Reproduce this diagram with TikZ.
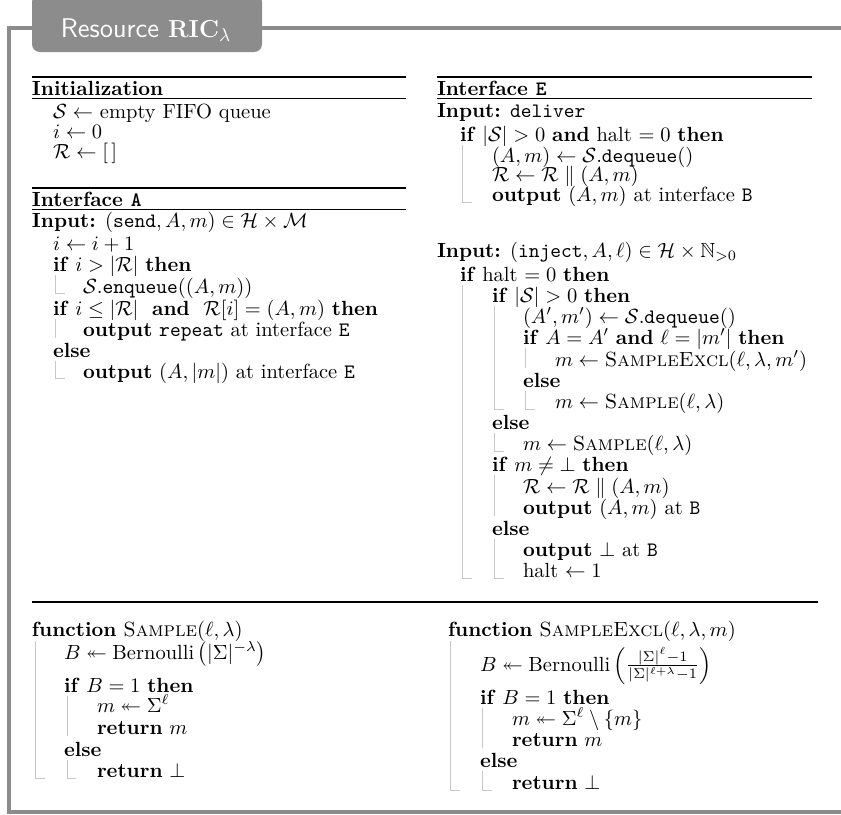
\documentclass[tikz,border=0pt]{standalone}
\usepackage{amsmath,amssymb}
\definecolor{framegray}{RGB}{140,140,140}
\definecolor{vgray}{RGB}{200,200,200}
\tikzset{
  ln/.style={anchor=base west, inner sep=0pt, outer sep=0pt},
  hd/.style={ln, font=\bfseries},
  vline/.style={draw=vgray, line width=0.45pt},
  toprl/.style={line width=0.8pt},
  midrl/.style={line width=0.4pt},
  seprl/.style={line width=0.5pt},
  frameline/.style={draw=framegray, line width=1.6pt},
}
% vertical block line with a hook at its end, and a plain one
\newcommand\blockhook[3]{\draw[vline] (#1,#2) -- (#1,#3) -- ++(9,0);}
\newcommand\blockplain[3]{\draw[vline] (#1,#2) -- (#1,#3);}
\begin{document}
\begin{tikzpicture}[x=0.4878pt,y=-0.4878pt]
\useasboundingbox (0,0) rectangle (841,814);

% outer frame and title tab
\draw[frameline] (870,28) -- (9,28) -- (9,812) -- (870,812);
\fill[framegray, rounded corners=3.8pt] (32,-6) rectangle (262,52);
\node[anchor=base, inner sep=0pt, text=white, font=\fontsize{13.2}{16}\selectfont\sffamily] (title) at (146,37) {Resource $\mathbf{RIC}_\lambda$};

% ---------- left column ----------
\draw[toprl] (32,77) -- (406,77);
\node[hd] (hInit) at (32,95) {Initialization};
\draw[midrl] (32,98) -- (406,98);
\node[ln] (i1) at (53,118) {$\mathcal{S} \leftarrow$ empty FIFO queue};
\node[ln] (i2) at (53,138) {$i \leftarrow 0$};
\node[ln] (i3) at (53,158) {$\mathcal{R} \leftarrow [\,]$};

\draw[toprl] (32,188) -- (406,188);
\node[hd] (hA) at (32,206) {Interface \texttt{A}};
\draw[midrl] (32,209) -- (406,209);
\node[ln] (a0) at (32,227) {\textbf{Input:} $(\texttt{send}, A, m) \in \mathcal{H} \times \mathcal{M}$};
\node[ln] (a1) at (53,250) {$i \leftarrow i+1$};
\node[ln] (a2) at (53,271) {\textbf{if} $i > |\mathcal{R}|$ \textbf{then}};
\node[ln] (a3) at (83,293) {$\mathcal{S}$.\texttt{enqueue}$((A,m))$};
\node[ln] (a4) at (53,315) {\textbf{if} $i \le |\mathcal{R}|$\ \ \textbf{and}\ \ $\mathcal{R}[i] = (A,m)$ \textbf{then}};
\node[ln] (a5) at (83,336) {\textbf{output} \texttt{repeat} at interface \texttt{E}};
\node[ln] (a6) at (53,357) {\textbf{else}};
\node[ln] (a7) at (83,378) {\textbf{output} $(A,|m|)$ at interface \texttt{E}};
\blockhook{55.5}{275}{293}
\blockplain{55.5}{319}{338}
\blockhook{55.5}{361}{378}

% ---------- right column ----------
\draw[toprl] (437,77) -- (812,77);
\node[hd] (hE) at (437,95) {Interface \texttt{E}};
\draw[midrl] (437,98) -- (812,98);
\node[ln] (e0) at (437,117) {\textbf{Input:} \texttt{deliver}};
\node[ln] (e1) at (460,141) {\textbf{if} $|\mathcal{S}| > 0$ \textbf{and} halt $= 0$ \textbf{then}};
\node[ln] (e2) at (492,162) {$(A,m) \leftarrow \mathcal{S}$.\texttt{dequeue}$()$};
\node[ln] (e3) at (492,181) {$\mathcal{R} \leftarrow \mathcal{R} \parallel (A,m)$};
\node[ln] (e4) at (492,201) {\textbf{output} $(A,m)$ at interface \texttt{B}};
\blockhook{462.5}{145}{202}

\node[ln] (j0) at (437,257) {\textbf{Input:} $(\texttt{inject}, A, \ell) \in \mathcal{H} \times \mathbb{N}_{>0}$};
\node[ln] (j1) at (460,281) {\textbf{if} halt $= 0$ \textbf{then}};
\node[ln] (j2) at (492,302) {\textbf{if} $|\mathcal{S}| > 0$ \textbf{then}};
\node[ln] (j3) at (523,323) {$(A', m') \leftarrow \mathcal{S}$.\texttt{dequeue}$()$};
\node[ln] (j4) at (523,344) {\textbf{if} $A = A'$ \textbf{and} $\ell = |m'|$ \textbf{then}};
\node[ln] (j5) at (555,366) {$m \leftarrow \textsc{SampleExcl}(\ell, \lambda, m')$};
\node[ln] (j6) at (523,387) {\textbf{else}};
\node[ln] (j7) at (555,408) {$m \leftarrow \textsc{Sample}(\ell, \lambda)$};
\node[ln] (j8) at (492,429) {\textbf{else}};
\node[ln] (j9) at (523,450) {$m \leftarrow \textsc{Sample}(\ell, \lambda)$};
\node[ln] (j10) at (492,471) {\textbf{if} $m \neq \bot$ \textbf{then}};
\node[ln] (j11) at (523,493) {$\mathcal{R} \leftarrow \mathcal{R} \parallel (A,m)$};
\node[ln] (j12) at (523,514) {\textbf{output} $(A,m)$ at \texttt{B}};
\node[ln] (j13) at (492,535) {\textbf{else}};
\node[ln] (j14) at (523,556) {\textbf{output} $\bot$ at \texttt{B}};
\node[ln] (j15) at (523,577) {halt $\leftarrow 1$};
\blockhook{462.5}{285}{578}
\blockhook{494.5}{306}{409}
\blockplain{525.5}{348}{368}
\blockhook{525.5}{391}{409}
\blockhook{494.5}{433}{451}
\blockplain{494.5}{475}{516}
\blockhook{494.5}{539}{578}

% ---------- helper functions ----------
\draw[seprl] (32,602) -- (818,602);

\node[ln] (s0) at (32,636) {\textbf{function} \textsc{Sample}$(\ell, \lambda)$};
\node[ln] (s1) at (64,659) {$B \twoheadleftarrow \text{Bernoulli}\left(|\Sigma|^{-\lambda}\right)$};
\node[ln] (s2) at (64,692) {\textbf{if} $B = 1$ \textbf{then}};
\node[ln] (s3) at (97,712) {$m \twoheadleftarrow \Sigma^\ell$};
\node[ln] (s4) at (97,734) {\textbf{return} $m$};
\node[ln] (s5) at (64,756) {\textbf{else}};
\node[ln] (s6) at (97,777) {\textbf{return} $\bot$};
\blockhook{35.5}{641}{778}
\blockplain{67}{696}{736}
\blockhook{67}{760}{778}

\node[ln] (x0) at (448,636) {\textbf{function} \textsc{SampleExcl}$(\ell, \lambda, m)$};
\node[ln] (x1) at (480,671) {$B \twoheadleftarrow \text{Bernoulli}\left(\frac{|\Sigma|^{\ell}-1}{|\Sigma|^{\ell+\lambda}-1}\right)$};
\node[ln] (x2) at (480,704) {\textbf{if} $B = 1$ \textbf{then}};
\node[ln] (x3) at (512,725) {$m \twoheadleftarrow \Sigma^\ell \setminus \{m\}$};
\node[ln] (x4) at (512,746) {\textbf{return} $m$};
\node[ln] (x5) at (480,767) {\textbf{else}};
\node[ln] (x6) at (512,789) {\textbf{return} $\bot$};
\blockhook{450.5}{641}{790}
\blockplain{482.5}{708}{748}
\blockhook{482.5}{771}{790}
\end{tikzpicture}
\end{document}
